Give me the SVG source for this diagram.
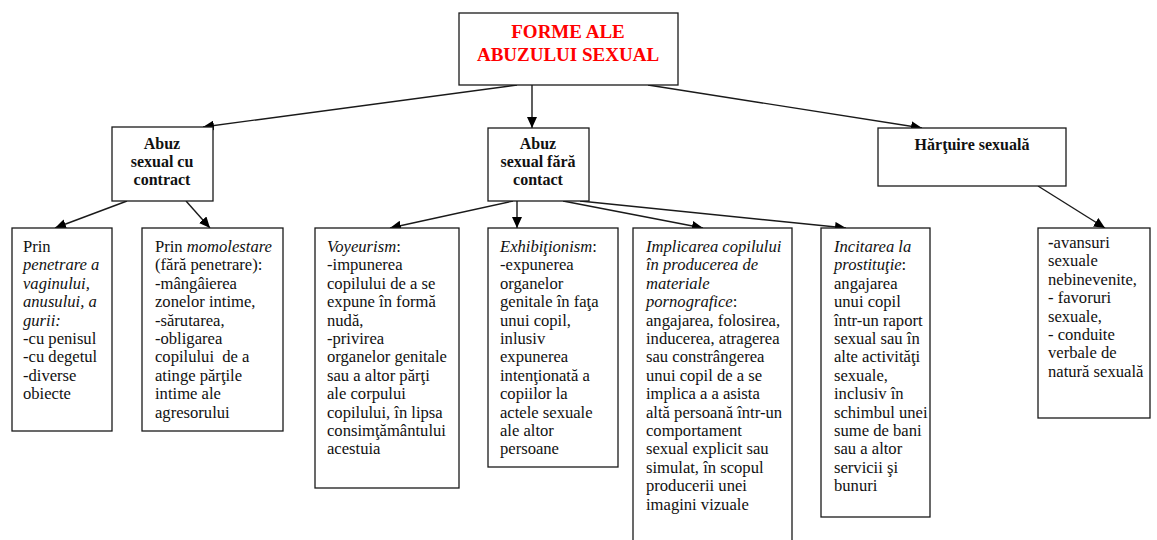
<svg xmlns="http://www.w3.org/2000/svg" width="1157" height="540" viewBox="0 0 1157 540">
<style>
.box{fill:#fff;stroke:#1a1a1a;stroke-width:1.3}
.title{font-family:"Liberation Serif","Times New Roman",serif;font-size:19px;font-weight:bold;fill:#ff0000;text-anchor:middle}
.head{font-family:"Liberation Serif","Times New Roman",serif;font-size:16px;font-weight:bold;fill:#111;text-anchor:middle}
.leaf{font-family:"Liberation Serif","Times New Roman",serif;font-size:16.6px;fill:#111}
.i{font-style:italic}
.conn{stroke:#1a1a1a;stroke-width:1.4;fill:none;marker-end:url(#arr)}
</style>
<defs>
<marker id="arr" markerUnits="userSpaceOnUse" markerWidth="12" markerHeight="10" refX="11" refY="5" orient="auto">
<path d="M0,0 L11,5 L0,10 Z" fill="#000"/>
</marker>
</defs>
<rect width="1157" height="540" fill="#fff"/>
<g id="connectors">
<line class="conn" x1="517" y1="85" x2="203" y2="127"/>
<line class="conn" x1="532" y1="85" x2="532" y2="128"/>
<line class="conn" x1="648" y1="85" x2="922" y2="128"/>
<line class="conn" x1="127" y1="201" x2="55" y2="228"/>
<line class="conn" x1="186" y1="201" x2="210" y2="228"/>
<line class="conn" x1="513" y1="201" x2="390" y2="228"/>
<line class="conn" x1="517" y1="201" x2="517" y2="228"/>
<line class="conn" x1="563" y1="201" x2="703" y2="228"/>
<line class="conn" x1="580" y1="201" x2="846" y2="228"/>
<line class="conn" x1="1038" y1="186" x2="1105" y2="228"/>
</g>
<g id="title">
<rect class="box" x="459" y="13" width="219" height="72"/>
<text class="title" x="568" y="38">FORME ALE</text>
<text class="title" x="568" y="61">ABUZULUI SEXUAL</text>
</g>
<g id="abuz-contract">
<rect class="box" x="112" y="127" width="101" height="74"/>
<text class="head" x="162" y="149">Abuz</text>
<text class="head" x="162" y="167">sexual cu</text>
<text class="head" x="162" y="185">contract</text>
</g>
<g id="abuz-fara-contact">
<rect class="box" x="488" y="128" width="101" height="73"/>
<text class="head" x="538" y="149">Abuz</text>
<text class="head" x="538" y="167">sexual fără</text>
<text class="head" x="538" y="185">contact</text>
</g>
<g id="hartuire">
<rect class="box" x="878" y="128" width="188" height="58"/>
<text class="head" x="972" y="150">Hărţuire sexuală</text>
</g>
<g id="penetrare">
<rect class="box" x="12" y="228" width="100" height="203"/>
<text class="leaf" x="23" y="252">
<tspan x="23">Prin</tspan>
<tspan x="23" dy="18.4" class="i">penetrare a</tspan>
<tspan x="23" dy="18.4" class="i">vaginului,</tspan>
<tspan x="23" dy="18.4" class="i">anusului, a</tspan>
<tspan x="23" dy="18.4" class="i">gurii:</tspan>
<tspan x="23" dy="18.4">-cu penisul</tspan>
<tspan x="23" dy="18.4">-cu degetul</tspan>
<tspan x="23" dy="18.4">-diverse</tspan>
<tspan x="23" dy="18.4">obiecte</tspan>
</text>
</g>
<g id="momolestare">
<rect class="box" x="142" y="228" width="141" height="203"/>
<text class="leaf" x="155" y="252">
<tspan x="155">Prin <tspan class="i">momolestare</tspan></tspan>
<tspan x="155" dy="18.4">(fără penetrare):</tspan>
<tspan x="155" dy="18.4">-mângâierea</tspan>
<tspan x="155" dy="18.4">zonelor intime,</tspan>
<tspan x="155" dy="18.4">-sărutarea,</tspan>
<tspan x="155" dy="18.4">-obligarea</tspan>
<tspan x="155" dy="18.4" xml:space="preserve">copilului  de a</tspan>
<tspan x="155" dy="18.4">atinge părţile</tspan>
<tspan x="155" dy="18.4">intime ale</tspan>
<tspan x="155" dy="18.4">agresorului</tspan>
</text>
</g>
<g id="voyeurism">
<rect class="box" x="315" y="228" width="144" height="260"/>
<text class="leaf" x="327" y="252">
<tspan x="327"><tspan class="i">Voyeurism</tspan>:</tspan>
<tspan x="327" dy="18.4">-impunerea</tspan>
<tspan x="327" dy="18.4">copilului de a se</tspan>
<tspan x="327" dy="18.4">expune în formă</tspan>
<tspan x="327" dy="18.4">nudă,</tspan>
<tspan x="327" dy="18.4">-privirea</tspan>
<tspan x="327" dy="18.4">organelor genitale</tspan>
<tspan x="327" dy="18.4">sau a altor părţi</tspan>
<tspan x="327" dy="18.4">ale corpului</tspan>
<tspan x="327" dy="18.4">copilului, în lipsa</tspan>
<tspan x="327" dy="18.4">consimţământului</tspan>
<tspan x="327" dy="18.4">acestuia</tspan>
</text>
</g>
<g id="exhibitionism">
<rect class="box" x="488" y="228" width="130" height="239"/>
<text class="leaf" x="500" y="252">
<tspan x="500"><tspan class="i">Exhibiţionism</tspan>:</tspan>
<tspan x="500" dy="18.4">-expunerea</tspan>
<tspan x="500" dy="18.4">organelor</tspan>
<tspan x="500" dy="18.4">genitale în faţa</tspan>
<tspan x="500" dy="18.4">unui copil,</tspan>
<tspan x="500" dy="18.4">inlusiv</tspan>
<tspan x="500" dy="18.4">expunerea</tspan>
<tspan x="500" dy="18.4">intenţionată a</tspan>
<tspan x="500" dy="18.4">copiilor la</tspan>
<tspan x="500" dy="18.4">actele sexuale</tspan>
<tspan x="500" dy="18.4">ale altor</tspan>
<tspan x="500" dy="18.4">persoane</tspan>
</text>
</g>
<g id="pornografie">
<rect class="box" x="633" y="228" width="159" height="320"/>
<text class="leaf" x="646" y="252">
<tspan x="646" class="i">Implicarea copilului</tspan>
<tspan x="646" dy="18.4" class="i">în producerea de</tspan>
<tspan x="646" dy="18.4" class="i">materiale</tspan>
<tspan x="646" dy="18.4"><tspan class="i">pornografice</tspan>:</tspan>
<tspan x="646" dy="18.4">angajarea, folosirea,</tspan>
<tspan x="646" dy="18.4">inducerea, atragerea</tspan>
<tspan x="646" dy="18.4">sau constrângerea</tspan>
<tspan x="646" dy="18.4">unui copil de a se</tspan>
<tspan x="646" dy="18.4">implica a a asista</tspan>
<tspan x="646" dy="18.4">altă persoană într-un</tspan>
<tspan x="646" dy="18.4">comportament</tspan>
<tspan x="646" dy="18.4">sexual explicit sau</tspan>
<tspan x="646" dy="18.4">simulat, în scopul</tspan>
<tspan x="646" dy="18.4">producerii unei</tspan>
<tspan x="646" dy="18.4">imagini vizuale</tspan>
</text>
</g>
<g id="prostitutie">
<rect class="box" x="821" y="228" width="109" height="289"/>
<text class="leaf" x="834" y="252">
<tspan x="834" class="i">Incitarea la</tspan>
<tspan x="834" dy="18.4"><tspan class="i">prostituţie</tspan>:</tspan>
<tspan x="834" dy="18.4">angajarea</tspan>
<tspan x="834" dy="18.4">unui copil</tspan>
<tspan x="834" dy="18.4">într-un raport</tspan>
<tspan x="834" dy="18.4">sexual sau în</tspan>
<tspan x="834" dy="18.4">alte activităţi</tspan>
<tspan x="834" dy="18.4">sexuale,</tspan>
<tspan x="834" dy="18.4">inclusiv în</tspan>
<tspan x="834" dy="18.4">schimbul unei</tspan>
<tspan x="834" dy="18.4">sume de bani</tspan>
<tspan x="834" dy="18.4">sau a altor</tspan>
<tspan x="834" dy="18.4">servicii şi</tspan>
<tspan x="834" dy="18.4">bunuri</tspan>
</text>
</g>
<g id="hartuire-forme">
<rect class="box" x="1038" y="228" width="112" height="190"/>
<text class="leaf" x="1048" y="248">
<tspan x="1048"><tspan font-weight="bold">-</tspan>avansuri</tspan>
<tspan x="1048" dy="18.4">sexuale</tspan>
<tspan x="1048" dy="18.4">nebinevenite,</tspan>
<tspan x="1048" dy="18.4">- favoruri</tspan>
<tspan x="1048" dy="18.4">sexuale,</tspan>
<tspan x="1048" dy="18.4">- conduite</tspan>
<tspan x="1048" dy="18.4">verbale de</tspan>
<tspan x="1048" dy="18.4">natură sexuală</tspan>
</text>
</g>
</svg>
